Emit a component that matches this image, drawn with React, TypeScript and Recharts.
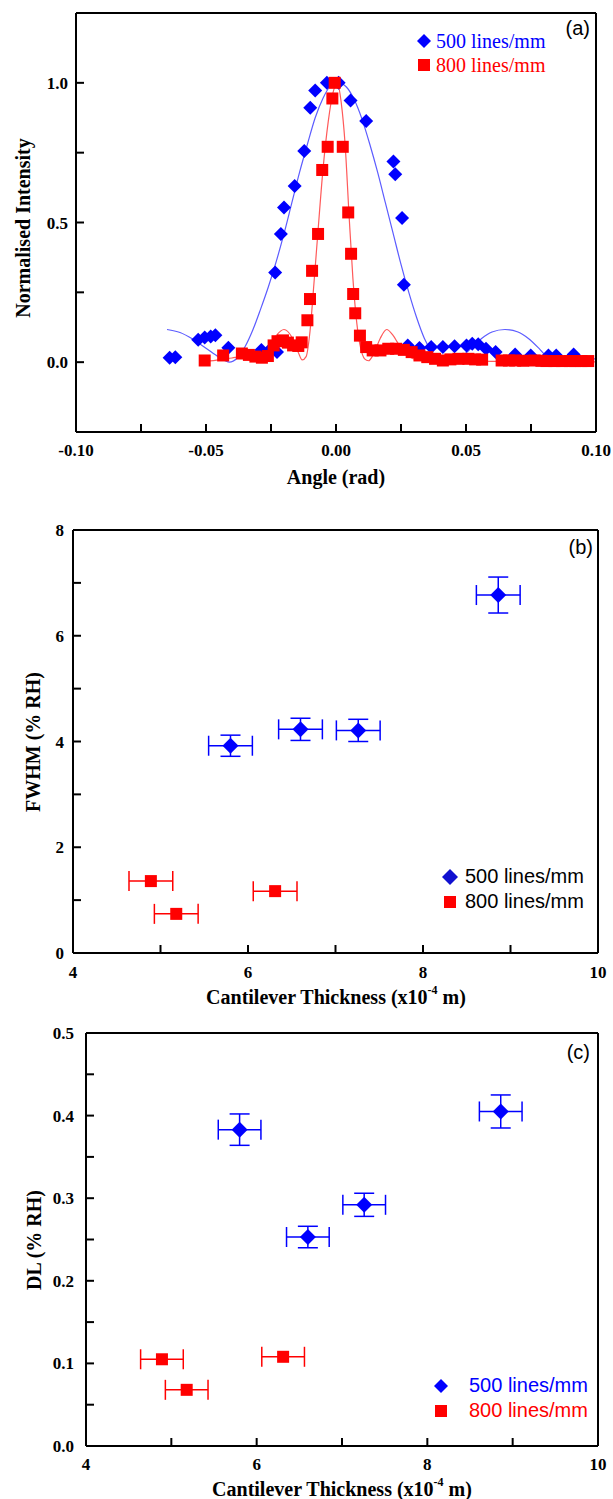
import React from 'react';
import { ComposedChart, Scatter, Line, XAxis, YAxis, ErrorBar, Legend } from 'recharts';

const SERIF = '"Liberation Serif", "Times New Roman", serif';
const SANS = '"Liberation Sans", Arial, sans-serif';
const BLUE = '#0000ff';
const RED = '#ff0000';
const BLUE_FIT = '#5c5cff';
const RED_FIT = '#ff5a5a';

// ---------- Panel (a): diffraction profiles ----------
const angle500 = [-0.064, -0.0618, -0.053, -0.0505, -0.0482, -0.0464, -0.0414, -0.0287, -0.0257, -0.0227, -0.0234, -0.0212, -0.02, -0.0159, -0.0122, -0.0099, -0.008, -0.0035, 0.001, 0.0056, 0.0116, 0.0221, 0.0228, 0.0254, 0.0261, 0.0276, 0.0321, 0.0366, 0.0411, 0.0456, 0.0502, 0.0524, 0.0547, 0.0577, 0.0614, 0.0689, 0.0749, 0.0817, 0.0847, 0.0914];
const intensity500 = [0.016, 0.018, 0.08, 0.088, 0.092, 0.096, 0.052, 0.044, 0.042, 0.036, 0.321, 0.459, 0.554, 0.631, 0.756, 0.911, 0.973, 1.0, 1.0, 0.937, 0.863, 0.718, 0.673, 0.516, 0.277, 0.06, 0.051, 0.054, 0.054, 0.057, 0.06, 0.066, 0.064, 0.048, 0.036, 0.027, 0.024, 0.024, 0.024, 0.027];

const angle800 = [-0.0505, -0.0434, -0.0362, -0.0335, -0.031, -0.0285, -0.0262, -0.024, -0.0225, -0.0204, -0.0185, -0.0165, -0.0145, -0.0132, -0.011, -0.01, -0.0092, -0.0069, -0.0053, -0.0032, -0.0014, -0.0005, 0.0026, 0.0047, 0.0058, 0.0066, 0.0074, 0.0092, 0.0116, 0.0141, 0.0171, 0.0201, 0.0231, 0.0261, 0.0291, 0.0321, 0.0351, 0.0381, 0.0411, 0.044, 0.0471, 0.0509, 0.0535, 0.0562, 0.0637, 0.0665, 0.0689, 0.072, 0.0764, 0.079, 0.0809, 0.084, 0.0869, 0.09, 0.092, 0.0944, 0.097];
const intensity800 = [0.006, 0.024, 0.031, 0.026, 0.02, 0.016, 0.022, 0.06, 0.075, 0.078, 0.07, 0.06, 0.058, 0.071, 0.15, 0.226, 0.327, 0.459, 0.688, 0.771, 0.944, 1.0, 0.771, 0.536, 0.388, 0.244, 0.175, 0.095, 0.054, 0.042, 0.042, 0.048, 0.048, 0.044, 0.036, 0.024, 0.018, 0.012, 0.006, 0.01, 0.012, 0.012, 0.01, 0.009, 0.006, 0.006, 0.006, 0.005, 0.006, 0.005, 0.004, 0.004, 0.004, 0.004, 0.004, 0.004, 0.004];

const fitAngle500 = [-0.065, -0.06, -0.055, -0.05, -0.045, -0.041, -0.038, -0.035, -0.032, -0.029, -0.026, -0.023, -0.02, -0.017, -0.014, -0.011, -0.008, -0.005, -0.002, 0.001, 0.004, 0.007, 0.01, 0.013, 0.016, 0.019, 0.022, 0.025, 0.028, 0.031, 0.034, 0.037, 0.04, 0.043, 0.046, 0.049, 0.052, 0.056, 0.06, 0.065, 0.07, 0.074, 0.078, 0.081, 0.084, 0.088, 0.092, 0.096, 0.1];
const fitIntensity500 = [0.117, 0.106, 0.082, 0.05, 0.018, 0.0, 0.015, 0.055, 0.115, 0.19, 0.27, 0.36, 0.46, 0.57, 0.68, 0.78, 0.875, 0.945, 0.99, 1.0, 0.985, 0.94, 0.87, 0.78, 0.68, 0.57, 0.46, 0.35, 0.25, 0.16, 0.085, 0.035, 0.01, 0.0, 0.008, 0.025, 0.05, 0.085, 0.108, 0.117, 0.108, 0.085, 0.05, 0.02, 0.003, 0.002, 0.008, 0.012, 0.012];

const fitAngle800 = [-0.05, -0.045, -0.04, -0.036, -0.032, -0.029, -0.026, -0.023, -0.02, -0.017, -0.0145, -0.013, -0.0115, -0.01, -0.0085, -0.007, -0.005, -0.003, -0.001, 0.0005, 0.002, 0.0035, 0.005, 0.0065, 0.008, 0.0095, 0.011, 0.0125, 0.0145, 0.017, 0.0195, 0.022, 0.025, 0.028, 0.031, 0.035, 0.04, 0.045, 0.05, 0.06, 0.07, 0.08, 0.09, 0.1];
const fitIntensity800 = [0.003, 0.008, 0.015, 0.02, 0.015, 0.02, 0.05, 0.095, 0.117, 0.09, 0.035, 0.008, 0.02, 0.11, 0.28, 0.46, 0.69, 0.86, 0.97, 1.0, 0.93, 0.78, 0.53, 0.3, 0.14, 0.05, 0.012, 0.005, 0.03, 0.085, 0.117, 0.095, 0.05, 0.02, 0.01, 0.02, 0.015, 0.008, 0.004, 0.003, 0.002, 0.002, 0.001, 0.001];

const angleTicks = [-0.1, -0.075, -0.05, -0.025, 0, 0.025, 0.05, 0.075, 0.1];
const angleTickLabels = ['-0.10', '', '-0.05', '', '0.00', '', '0.05', '', '0.10'];
const intensityTicks = [0, 0.25, 0.5, 0.75, 1.0];
const intensityTickLabels = ['0.0', '', '0.5', '', '1.0'];

// ---------- Panels (b) and (c): thickness dependence ----------
const thickness500 = [5.8, 6.6, 7.26, 8.86];
const thicknessErr500 = [0.25, 0.25, 0.25, 0.25];
const fwhm500 = [3.92, 4.23, 4.21, 6.77];
const fwhmErr500 = [0.2, 0.21, 0.21, 0.34];
const thickness800 = [4.89, 5.18, 6.31];
const thicknessErr800 = [0.25, 0.25, 0.25];
const fwhm800 = [1.36, 0.74, 1.17];
const dl500 = [0.383, 0.253, 0.292, 0.405];
const dlErr500 = [0.019, 0.013, 0.014, 0.02];
const dl800 = [0.105, 0.068, 0.108];

const thicknessTicks = [4, 5, 6, 7, 8, 9, 10];
const thicknessTickLabels = ['4', '', '6', '', '8', '', '10'];
const fwhmTicks = [0, 1, 2, 3, 4, 5, 6, 7, 8];
const fwhmTickLabels = ['0', '', '2', '', '4', '', '6', '', '8'];
const dlTicks = [0, 0.05, 0.1, 0.15, 0.2, 0.25, 0.3, 0.35, 0.4, 0.45, 0.5];
const dlTickLabels = ['0.0', '', '0.1', '', '0.2', '', '0.3', '', '0.4', '', '0.5'];

const legendNames = ['500 lines/mm', '800 lines/mm'];

// ---------- data tables ----------
const pts = (xs: number[], ys: number[]) => xs.map((x, i) => ({ x, y: ys[i] }));
const ptsErr = (xs: number[], ys: number[], exs: number[], eys?: number[]) =>
  xs.map((x, i) => ({ x, y: ys[i], ex: exs[i], ey: eys ? eys[i] : 0 }));

const dataA500 = pts(angle500, intensity500);
const dataA800 = pts(angle800, intensity800);
const fitA500 = pts(fitAngle500, fitIntensity500);
const fitA800 = pts(fitAngle800, fitIntensity800);
const dataB500 = ptsErr(thickness500, fwhm500, thicknessErr500, fwhmErr500);
const dataB800 = ptsErr(thickness800, fwhm800, thicknessErr800);
const dataC500 = ptsErr(thickness500, dl500, thicknessErr500, dlErr500);
const dataC800 = ptsErr(thickness800, dl800, thicknessErr800);

// ---------- marker shapes ----------
const diamondShape = (r: number, fill: string) => (props: any) => {
  const { cx, cy } = props;
  if (cx == null || cy == null) return <g />;
  return <polygon points={`${cx},${cy - r} ${cx + r},${cy} ${cx},${cy + r} ${cx - r},${cy}`} fill={fill} />;
};
const squareShape = (h: number, fill: string) => (props: any) => {
  const { cx, cy } = props;
  if (cx == null || cy == null) return <g />;
  return <rect x={cx - h} y={cy - h} width={2 * h} height={2 * h} fill={fill} />;
};

const labelFor = (ticks: number[], labels: string[]) => (v: number) => {
  const i = ticks.findIndex((t) => Math.abs(t - v) < 1e-9);
  return i >= 0 ? labels[i] : '';
};

const TICK = 8;
const tickFont = { fontFamily: SERIF, fontWeight: 700, fontSize: 17, fill: '#000' };
const lineStyle = { stroke: '#000', strokeWidth: 2 };

type AxCfg = {
  xDomain: [number, number];
  xTicks: number[];
  xLabels: string[];
  yDomain: [number, number];
  yTicks: number[];
  yLabels: string[];
  xMargin: number;
  yMargin: number;
};

const renderAxes = (c: AxCfg) => [
  <XAxis key="xb" xAxisId="b" dataKey="x" type="number" orientation="bottom" domain={c.xDomain} allowDataOverflow
    ticks={c.xTicks} interval={0} tickFormatter={labelFor(c.xTicks, c.xLabels)} tickSize={-TICK} tickMargin={c.xMargin}
    height={50} axisLine={lineStyle} tickLine={lineStyle} tick={tickFont} />,
  <XAxis key="xt" xAxisId="t" type="number" orientation="top" domain={c.xDomain} allowDataOverflow
    ticks={c.xTicks} interval={0} tickFormatter={() => ''} tickSize={-TICK} height={5}
    axisLine={lineStyle} tickLine={lineStyle} tick={false} />,
  <YAxis key="yl" yAxisId="l" dataKey="y" type="number" orientation="left" domain={c.yDomain} allowDataOverflow
    ticks={c.yTicks} interval={0} tickFormatter={labelFor(c.yTicks, c.yLabels)} tickSize={-TICK} tickMargin={c.yMargin}
    width={60} axisLine={lineStyle} tickLine={lineStyle} tick={tickFont} />,
  <YAxis key="yr" yAxisId="r" type="number" orientation="right" domain={c.yDomain} allowDataOverflow
    ticks={c.yTicks} interval={0} tickFormatter={() => ''} tickSize={-TICK} width={10}
    axisLine={lineStyle} tickLine={lineStyle} tick={false} />,
];

type LegendCfg = {
  font: string;
  size: number;
  colors: string[];
  markerColors: string[];
  dR: number;
  sH: number;
  gap: number;
  rowH: number;
};

const makeLegend = (cfg: LegendCfg) => () => (
  <div style={{ fontFamily: cfg.font, fontSize: cfg.size }}>
    {legendNames.map((name, i) => (
      <div key={name} style={{ display: 'flex', alignItems: 'center', height: cfg.rowH, whiteSpace: 'nowrap' }}>
        <svg width={18} height={18} style={{ display: 'block' }}>
          {i === 0 ? (
            <polygon points={`9,${9 - cfg.dR} ${9 + cfg.dR},9 9,${9 + cfg.dR} ${9 - cfg.dR},9`} fill={cfg.markerColors[0]} />
          ) : (
            <rect x={9 - cfg.sH} y={9 - cfg.sH} width={2 * cfg.sH} height={2 * cfg.sH} fill={cfg.markerColors[1]} />
          )}
        </svg>
        <span style={{ marginLeft: cfg.gap, color: cfg.colors[i], lineHeight: `${cfg.rowH}px` }}>{name}</span>
      </div>
    ))}
  </div>
);

const legendProps = { layout: 'horizontal' as const, verticalAlign: 'middle' as const, align: 'center' as const };

const Title = ({ x, y, children, rotate }: any) => (
  <text x={x} y={y} textAnchor="middle" dominantBaseline="central" fontFamily={SERIF} fontWeight={700} fontSize={20}
    fill="#000" transform={rotate ? `rotate(-90 ${x} ${y})` : undefined}>
    {children}
  </text>
);

const ThicknessTitle = ({ x, y }: { x: number; y: number }) => (
  <text x={x} y={y} textAnchor="middle" dominantBaseline="central" fontFamily={SERIF} fontWeight={700} fontSize={20} fill="#000">
    Cantilever Thickness (x10<tspan fontSize={12} dy={-7}>-4</tspan><tspan dy={7}> m)</tspan>
  </text>
);

const PanelTag = ({ x, y, children }: any) => (
  <text x={x} y={y} textAnchor="end" dominantBaseline="central" fontFamily={SANS} fontSize={20} fill="#000">{children}</text>
);

export default function App() {
  return (
    <div style={{ position: 'absolute', left: 0, top: 0, width: 613, height: 1499, background: '#fff' }}>
      {/* Panel (a) */}
      <div style={{ position: 'absolute', left: 0, top: 0 }}>
        <ComposedChart width={613} height={500} margin={{ top: 8, right: 7, bottom: 18, left: 16 }}>
          {renderAxes({
            xDomain: [-0.1, 0.1], xTicks: angleTicks, xLabels: angleTickLabels,
            yDomain: [-0.25, 1.25], yTicks: intensityTicks, yLabels: intensityTickLabels, xMargin: 20, yMargin: 16,
          })}
          <Line xAxisId="b" yAxisId="l" data={fitA500} dataKey="y" type="monotone" dot={false} stroke={BLUE_FIT}
            strokeWidth={1.2} isAnimationActive={false} legendType="none" />
          <Line xAxisId="b" yAxisId="l" data={fitA800} dataKey="y" type="monotone" dot={false} stroke={RED_FIT}
            strokeWidth={1.2} isAnimationActive={false} legendType="none" />
          <Scatter xAxisId="b" yAxisId="l" name={legendNames[0]} data={dataA500} shape={diamondShape(7, BLUE)} isAnimationActive={false} />
          <Scatter xAxisId="b" yAxisId="l" name={legendNames[1]} data={dataA800} shape={squareShape(6, RED)} isAnimationActive={false} />
          <Legend {...legendProps} wrapperStyle={{ left: 415, top: 29, width: 'auto' }}
            content={makeLegend({ font: SERIF, size: 20, colors: [BLUE, RED], markerColors: [BLUE, RED], dR: 7, sH: 6, gap: 3, rowH: 24 })} />
        </ComposedChart>
      </div>

      {/* Panel (b) */}
      <div style={{ position: 'absolute', left: 0, top: 500 }}>
        <ComposedChart width={613} height={510} margin={{ top: 25, right: 5, bottom: 7, left: 13 }}>
          {renderAxes({
            xDomain: [4, 10], xTicks: thicknessTicks, xLabels: thicknessTickLabels,
            yDomain: [0, 8], yTicks: fwhmTicks, yLabels: fwhmTickLabels, xMargin: 21, yMargin: 17,
          })}
          <Scatter xAxisId="b" yAxisId="l" name={legendNames[0]} data={dataB500} shape={diamondShape(8, BLUE)} isAnimationActive={false}>
            <ErrorBar dataKey="ex" direction="x" width={10} stroke={BLUE} strokeWidth={1.5} isAnimationActive={false} />
            <ErrorBar dataKey="ey" direction="y" width={10} stroke={BLUE} strokeWidth={1.5} isAnimationActive={false} />
          </Scatter>
          <Scatter xAxisId="b" yAxisId="l" name={legendNames[1]} data={dataB800} shape={squareShape(6, RED)} isAnimationActive={false}>
            <ErrorBar dataKey="ex" direction="x" width={10} stroke={RED} strokeWidth={1.5} isAnimationActive={false} />
          </Scatter>
          <Legend {...legendProps} wrapperStyle={{ left: 441, top: 364, width: 'auto' }}
            content={makeLegend({ font: SANS, size: 20, colors: ['#000', '#000'], markerColors: ['#1010d0', RED], dR: 8, sH: 6, gap: 6, rowH: 25 })} />
        </ComposedChart>
      </div>

      {/* Panel (c) */}
      <div style={{ position: 'absolute', left: 0, top: 1010 }}>
        <ComposedChart width={613} height={489} margin={{ top: 18, right: 5, bottom: 3, left: 26 }}>
          {renderAxes({
            xDomain: [4, 10], xTicks: thicknessTicks, xLabels: thicknessTickLabels,
            yDomain: [0, 0.5], yTicks: dlTicks, yLabels: dlTickLabels, xMargin: 20, yMargin: 20,
          })}
          <Scatter xAxisId="b" yAxisId="l" name={legendNames[0]} data={dataC500} shape={diamondShape(8, BLUE)} isAnimationActive={false}>
            <ErrorBar dataKey="ex" direction="x" width={10} stroke={BLUE} strokeWidth={1.5} isAnimationActive={false} />
            <ErrorBar dataKey="ey" direction="y" width={10} stroke={BLUE} strokeWidth={1.5} isAnimationActive={false} />
          </Scatter>
          <Scatter xAxisId="b" yAxisId="l" name={legendNames[1]} data={dataC800} shape={squareShape(6, RED)} isAnimationActive={false}>
            <ErrorBar dataKey="ex" direction="x" width={10} stroke={RED} strokeWidth={1.5} isAnimationActive={false} />
          </Scatter>
          <Legend {...legendProps} wrapperStyle={{ left: 432, top: 363, width: 'auto' }}
            content={makeLegend({ font: SANS, size: 20, colors: [BLUE, RED], markerColors: [BLUE, RED], dR: 7, sH: 6, gap: 19, rowH: 25 })} />
        </ComposedChart>
      </div>

      {/* Axis titles and panel tags */}
      <svg width={613} height={1499} style={{ position: 'absolute', left: 0, top: 0, pointerEvents: 'none' }}>
        <Title x={336} y={477}>Angle (rad)</Title>
        <Title x={23} y={228} rotate>Normalised Intensity</Title>
        <ThicknessTitle x={336} y={997} />
        <Title x={33} y={742} rotate>FWHM (% RH)</Title>
        <ThicknessTitle x={342} y={1489} />
        <Title x={34} y={1240} rotate>DL (% RH)</Title>
        <PanelTag x={590} y={28}>(a)</PanelTag>
        <PanelTag x={593} y={547}>(b)</PanelTag>
        <PanelTag x={590} y={1052}>(c)</PanelTag>
      </svg>
    </div>
  );
}
